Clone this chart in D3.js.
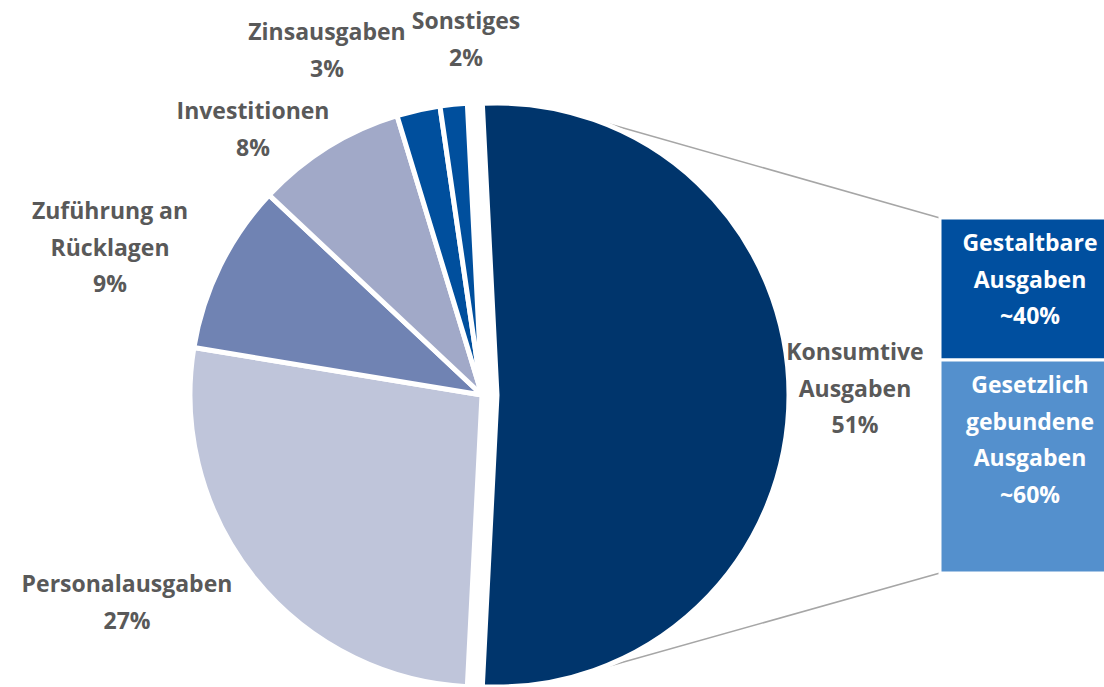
<!DOCTYPE html>
<meta charset="utf-8">
<head>
<script src="https://d3js.org/d3.v7.min.js"></script>
<style>
  body { margin: 0; background: #fff; }
  svg text { font-family: "Open Sans", Lato, sans-serif; font-weight: bold; }
</style>
</head>
<body>
<svg id="chart" width="1104" height="687"></svg>
<script>
// pie data (shares, labels as printed)
var categories = ["Konsumtive Ausgaben", "Personalausgaben", "Zuführung an Rücklagen", "Investitionen", "Zinsausgaben", "Sonstiges"];
var shares = [51.6, 26.8, 9.4, 8.3, 2.4, 1.5];
var shareLabels = ["51%", "27%", "9%", "8%", "3%", "2%"];
var labelLines = [["Konsumtive", "Ausgaben"], ["Personalausgaben"], ["Zuführung an", "Rücklagen"], ["Investitionen"], ["Zinsausgaben"], ["Sonstiges"]];
var sliceColors = ["#00356c", "#bfc5da", "#7083b3", "#a1a9c8", "#004f9d", "#004f9d"];

// split of the first slice
var barCategories = ["Gestaltbare Ausgaben", "Gesetzlich gebundene Ausgaben"];
var barShares = [40, 60];
var barLabelLines = [["Gestaltbare", "Ausgaben", "~40%"], ["Gesetzlich", "gebundene", "Ausgaben", "~60%"]];
var barColors = ["#004f9f", "#5490cd"];

var svg = d3.select("#chart");
var cx = 482, cy = 395, r = 292, explode = 15;
var lineH = 36.5;

// label anchors (centre x, first baseline)
var labelPos = [[855, 360], [127, 592], [110, 219], [253, 119], [327, 40], [466, 29]];

var total = d3.sum(shares);
var start = Math.PI / 2 - (shares[0] / total) * Math.PI; // first slice centred on the right
var pie = d3.pie().sort(null).value(function(d) { return d; })
  .startAngle(start).endAngle(start + 2 * Math.PI);
var arcs = pie(shares);
var arc = d3.arc().innerRadius(0).outerRadius(r);

function offset(d, i) {
  if (i != 0) return [0, 0];
  var mid = (d.startAngle + d.endAngle) / 2;
  return [explode * Math.sin(mid), -explode * Math.cos(mid)];
}

// bar of pie
var barX = 940, barW = 174;
var y = d3.scaleLinear().domain([0, d3.sum(barShares)]).range([218, 573]);
var stacked = [];
var acc = 0;
barShares.forEach(function(v, i) { stacked.push({ y0: acc, y1: acc + v, i: i }); acc += v; });

// connector lines from first slice to the bar
var d0 = arcs[0], o0 = offset(d0, 0);
var conAngles = [d0.startAngle + 0.39, d0.endAngle - 0.39];
var ends = [y(0), y(d3.sum(barShares))];
svg.append("g").selectAll("line")
  .data(conAngles)
  .enter().append("line")
  .attr("x1", function(a) { return cx + o0[0] + r * Math.sin(a); })
  .attr("y1", function(a) { return cy + o0[1] - r * Math.cos(a); })
  .attr("x2", barX)
  .attr("y2", function(a, i) { return ends[i]; })
  .attr("stroke", "#a6a6a6")
  .attr("stroke-width", 1.5);

svg.append("g").selectAll("path")
  .data(arcs)
  .enter().append("path")
  .attr("transform", function(d, i) {
    var o = offset(d, i);
    return "translate(" + (cx + o[0]) + "," + (cy + o[1]) + ")";
  })
  .attr("d", arc)
  .attr("fill", function(d, i) { return sliceColors[i]; })
  .attr("stroke", "#fff")
  .attr("stroke-width", 5)
  .attr("stroke-linejoin", "round");

svg.append("g").selectAll("rect")
  .data(stacked)
  .enter().append("rect")
  .attr("x", barX)
  .attr("y", function(d) { return y(d.y0); })
  .attr("width", barW)
  .attr("height", function(d) { return y(d.y1) - y(d.y0); })
  .attr("fill", function(d) { return barColors[d.i]; })
  .attr("stroke", "#fff")
  .attr("stroke-width", 3);

// bar labels
stacked.forEach(function(d) {
  var t = svg.append("text")
    .attr("x", barX + barW / 2 + 3)
    .attr("y", y(d.y0) + 33)
    .attr("text-anchor", "middle")
    .attr("fill", "#fff")
    .style("font-size", "23px");
  barLabelLines[d.i].forEach(function(s, k) {
    t.append("tspan").attr("x", barX + barW / 2 + 3).attr("dy", k == 0 ? 0 : lineH).text(s);
  });
});

// pie labels
categories.forEach(function(c, i) {
  var lines = labelLines[i].concat([shareLabels[i]]);
  var t = svg.append("text")
    .attr("x", labelPos[i][0])
    .attr("y", labelPos[i][1])
    .attr("text-anchor", "middle")
    .attr("fill", "#595959")
    .style("font-size", "23px");
  lines.forEach(function(s, k) {
    t.append("tspan").attr("x", labelPos[i][0]).attr("dy", k == 0 ? 0 : lineH).text(s);
  });
});
</script>
</body>
